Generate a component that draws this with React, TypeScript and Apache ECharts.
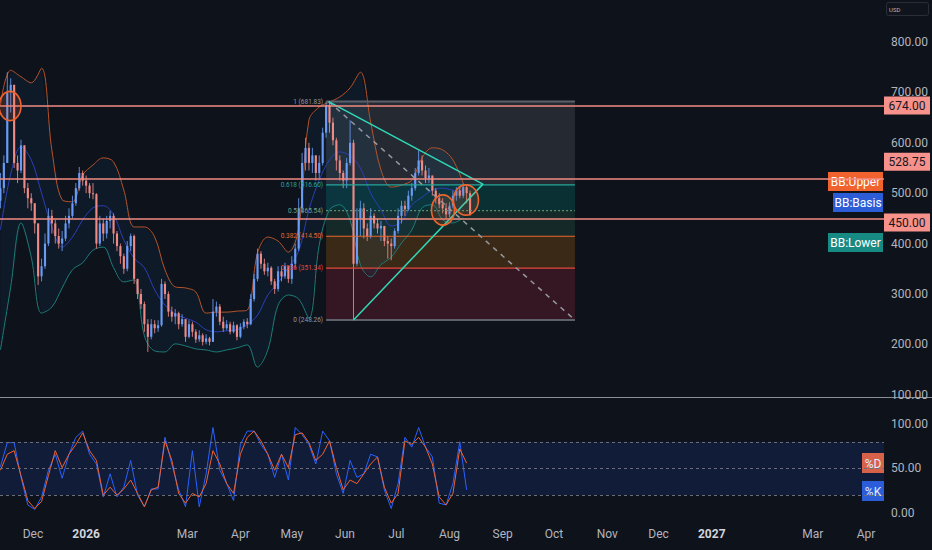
import React, { useEffect, useRef } from "react";
import * as echarts from "echarts";

// ---- time layout (days since 1 Dec 2025) ----
const X_MIN = -19.25;
const X_MAX = 496.5;
const CANDLE_START_DAY = -19;
const CANDLE_STEP = 2;
const BB_STEP = 6;
const STOCH_STEP = 4;
const FIRST_OPEN = 485;

const monthTicks = [0, 31, 90, 121, 151, 182, 212, 243, 274, 304, 335, 365, 396, 455, 486];
const monthLabels = ["Dec", "2026", "Mar", "Apr", "May", "Jun", "Jul", "Aug", "Sep", "Oct", "Nov", "Dec", "2027", "Mar", "Apr"];
const priceTicks = [100, 200, 300, 400, 500, 600, 700, 800];
const stochTicks = [0, 50, 100];

// ---- candles (2-day bars) ----
const closes = [
  510, 560, 700, 715, 560, 545, 595, 510, 490, 480, 440, 335, 355, 400, 455, 440, 415, 400, 410, 440,
  455, 480, 510, 540, 525, 515, 500, 498, 400, 440, 420, 445, 455, 420, 395, 375, 350, 395, 415, 330,
  300, 280, 240, 215, 240, 232, 238, 320, 300, 265, 255, 262, 240, 250, 215, 240, 225, 210, 218, 205,
  212, 205, 265, 275, 245, 232, 240, 225, 238, 215, 235, 245, 240, 290, 330, 380, 360, 345, 352, 325,
  310, 345, 335, 355, 330, 360, 390, 470, 560, 590, 560, 575, 540, 560, 620, 675, 640, 605, 565, 540,
  525, 560, 600, 360, 450, 470, 430, 415, 455, 440, 430, 435, 405, 400, 395, 425, 455, 475, 468, 495,
  510, 540, 565, 545, 530, 535, 505, 490, 478, 470, 458, 475, 495, 505, 495, 512, 500, 458,
];
const highs = [
  540, 575, 740, 728, 705, 575, 606, 595, 520, 500, 480, 440, 370, 420, 470, 467, 447, 430, 425, 455,
  470, 495, 520, 552, 545, 535, 520, 520, 500, 455, 450, 455, 465, 460, 425, 400, 380, 405, 420, 418,
  330, 310, 285, 250, 250, 248, 248, 330, 325, 305, 275, 270, 265, 260, 250, 248, 245, 230, 228, 222,
  220, 215, 290, 285, 280, 255, 248, 245, 245, 240, 242, 250, 252, 300, 340, 390, 385, 370, 362, 355,
  330, 355, 355, 362, 355, 375, 400, 490, 580, 610, 600, 590, 575, 575, 630, 681.83, 680, 650, 610, 575,
  545, 570, 645, 606, 470, 485, 480, 440, 470, 460, 450, 445, 435, 415, 410, 430, 470, 485, 485, 505,
  520, 550, 585, 575, 555, 550, 535, 510, 500, 490, 480, 482, 505, 512, 515, 520, 515, 505,
];
const lows = [
  470, 500, 560, 660, 550, 520, 540, 500, 470, 465, 420, 318, 325, 350, 395, 420, 400, 390, 385, 405,
  430, 450, 475, 505, 515, 500, 490, 488, 390, 395, 405, 410, 430, 400, 385, 360, 340, 345, 385, 320,
  290, 270, 225, 185, 210, 222, 225, 235, 290, 255, 245, 240, 230, 235, 205, 212, 215, 203, 205, 198,
  200, 198, 205, 255, 238, 225, 228, 220, 222, 208, 212, 230, 232, 238, 285, 325, 350, 338, 335, 318,
  300, 305, 325, 330, 322, 320, 350, 385, 460, 545, 545, 540, 525, 530, 555, 610, 620, 595, 545, 525,
  510, 510, 555, 248.26, 355, 415, 410, 405, 410, 430, 420, 405, 395, 370, 367, 390, 420, 440, 455, 465,
  485, 505, 535, 535, 520, 520, 495, 480, 470, 460, 450, 452, 470, 485, 490, 490, 480, 455,
];

// ---- Bollinger Bands (sampled every 6 days) ----
const bbUpper = [
  675, 744, 731, 719, 748, 586, 487, 483, 536, 556, 570, 562, 506, 433, 433, 413, 348, 314, 312, 304,
  262, 264, 264, 266, 268, 381, 413, 405, 383, 430, 645, 671, 681, 691, 709, 740, 641, 546, 512, 516,
  526, 570, 590, 586, 566, 520,
];
const bbBasis = [
  427, 538, 592, 566, 500, 433, 393, 413, 447, 471, 475, 457, 407, 371, 352, 308, 278, 260, 252, 244,
  229, 225, 227, 229, 239, 258, 298, 322, 352, 385, 467, 526, 566, 582, 574, 550, 500, 467, 435, 443,
  477, 492, 506, 510, 506, 504,
];
const bbLower = [
  189, 314, 441, 373, 262, 274, 312, 348, 362, 387, 393, 352, 324, 328, 217, 187, 185, 201, 197, 191,
  189, 185, 189, 193, 199, 155, 189, 278, 298, 290, 252, 397, 467, 477, 447, 358, 334, 358, 373, 401,
  427, 471, 477, 447, 441, 451,
];

// ---- Stochastic (sampled every 4 days) ----
const stochK = [
  52, 79, 79, 40, 9, 4, 18, 48, 66, 39, 66, 85, 92, 66, 55, 18, 44, 18, 29, 59, 20, 7, 27, 27, 85,
  55, 26, 7, 70, 7, 44, 96, 48, 33, 14, 77, 92, 92, 77, 66, 40, 66, 37, 96, 88, 77, 55, 92, 81, 44,
  22, 59, 40, 44, 66, 63, 26, 5, 33, 85, 74, 96, 74, 63, 11, 9, 33, 80, 26,
];
const stochD = [
  48, 66, 70, 42, 14, 5, 13, 42, 70, 51, 66, 77, 90, 70, 59, 20, 29, 20, 27, 37, 22, 7, 26, 29, 81,
  59, 22, 11, 22, 18, 33, 70, 55, 33, 22, 66, 85, 92, 81, 66, 48, 66, 51, 88, 90, 79, 59, 66, 81, 51,
  26, 37, 33, 44, 55, 63, 29, 11, 22, 81, 77, 85, 74, 55, 18, 9, 22, 72, 56,
];

// ---- horizontal levels & drawings ----
const hLevels = [674, 528.75, 450];
const hTagShift = [0, -17, 4];
const fibStartDay = 171;
const fibEndDay = 316.2;
const fibRatios = ["1", "0.618", "0.5", "0.382", "0.236", "0"];
const fibPrices = [681.83, 516.6, 465.54, 414.5, 351.34, 248.26];
const fibLineColors = ["#5d606b", "#26a69a", "#5b8f78", "#e8672e", "#e04a3c", "#5d606b"];
const fibTextColors = ["#9598a1", "#26a69a", "#6fa58a", "#e8672e", "#e04a3c", "#9598a1"];
const fibFills = [
  "rgba(120,123,134,0.22)",
  "rgba(0,150,140,0.23)",
  "rgba(60,170,110,0.16)",
  "rgba(255,152,0,0.18)",
  "rgba(242,54,69,0.17)",
];
const triTop: [number, number] = [172.5, 681.83];
const triApex: [number, number] = [262.5, 518];
const triBottom: [number, number] = [187, 248.26];
const diagEnd: [number, number] = [316.2, 248.26];
// ellipse annotations: [centerDay, centerPrice, radiusDays, radiusPrice]
const circles = [
  [-13.4, 673, 6.4, 29],
  [239.2, 466.7, 6.7, 30],
  [252.6, 486.5, 7.3, 30],
];

const BG = "#0e121b";
const UP = "#6a9cf5";
const DOWN = "#f08a84";
const AXIS_TXT = "#b2b5be";
const FONT = "Roboto";

export default function App() {
  const ref = useRef<HTMLDivElement>(null);

  useEffect(() => {
    document.body.style.margin = "0";
    document.body.style.background = BG;
    const chart = echarts.init(ref.current as HTMLDivElement, null, { renderer: "svg" });

    const candleData = closes.map((c, i) => {
      const o = i === 0 ? FIRST_OPEN : closes[i - 1];
      return [CANDLE_START_DAY + i * CANDLE_STEP, o, c, lows[i], highs[i]];
    });
    const bbDay = (k: number) => CANDLE_START_DAY + k * BB_STEP;
    const stDay = (k: number) => CANDLE_START_DAY + k * STOCH_STEP;

    const lineBase = {
      type: "line",
      xAxisIndex: 0,
      yAxisIndex: 0,
      symbol: "none",
      silent: true,
      smooth: 0.35,
    };

    const option: any = {
      animation: false,
      backgroundColor: BG,
      textStyle: { fontFamily: FONT },
      grid: [
        { left: 0, right: 48, top: 0, height: 397 },
        { left: 0, right: 48, top: 398, height: 122 },
      ],
      xAxis: [
        { type: "value", gridIndex: 0, min: X_MIN, max: X_MAX, show: false },
        {
          type: "value",
          gridIndex: 1,
          min: X_MIN,
          max: X_MAX,
          axisLine: { show: false },
          axisTick: { show: false },
          splitLine: { show: false },
          axisLabel: {
            customValues: monthTicks,
            color: AXIS_TXT,
            fontSize: 12,
            margin: 8,
            formatter: (v: number) => {
              const t = monthLabels[monthTicks.indexOf(v)] ?? "";
              return /^\d{4}$/.test(t) ? `{y|${t}}` : t;
            },
            rich: { y: { fontWeight: "bold", color: "#d1d4dc", fontSize: 12, fontFamily: FONT } },
          },
        },
      ],
      yAxis: [
        {
          type: "value",
          gridIndex: 0,
          position: "right",
          min: 95.6,
          max: 883.3,
          axisLine: { show: false },
          axisTick: { show: false },
          splitLine: { show: false },
          axisLabel: {
            customValues: priceTicks,
            formatter: (v: number) => v.toFixed(2),
            color: AXIS_TXT,
            fontSize: 12,
            margin: 7,
          },
        },
        {
          type: "value",
          gridIndex: 1,
          position: "right",
          min: -7.9,
          max: 129.2,
          axisLine: { show: false },
          axisTick: { show: false },
          splitLine: { show: false },
          axisLabel: {
            customValues: stochTicks,
            formatter: (v: number) => v.toFixed(2),
            color: AXIS_TXT,
            fontSize: 12,
            margin: 7,
          },
        },
      ],
      series: [
        // Fib zones
        {
          type: "custom",
          xAxisIndex: 0,
          yAxisIndex: 0,
          silent: true,
          z: 1,
          data: fibFills.map((_, i) => [i]),
          renderItem: (_p: any, api: any) => {
            const i = api.value(0);
            const a = api.coord([fibStartDay, fibPrices[i]]);
            const b = api.coord([fibEndDay, fibPrices[i + 1]]);
            return {
              type: "rect",
              shape: { x: a[0], y: a[1], width: b[0] - a[0], height: b[1] - a[1] },
              style: { fill: fibFills[i] },
            };
          },
        },
        // BB fill between upper and lower
        {
          type: "custom",
          xAxisIndex: 0,
          yAxisIndex: 0,
          silent: true,
          z: 1,
          data: [[0, 500]],
          renderItem: (_p: any, api: any) => {
            const up = bbUpper.map((v, k) => api.coord([bbDay(k), v]));
            const lo = bbLower.map((v, k) => api.coord([bbDay(k), v])).reverse();
            return {
              type: "polygon",
              shape: { points: up.concat(lo) },
              style: { fill: "rgba(33,150,243,0.065)" },
            };
          },
        },
        {
          ...lineBase,
          name: "BB:Upper",
          z: 2,
          lineStyle: { color: "#b4532a", width: 1 },
          data: bbUpper.map((v, k) => [bbDay(k), v]),
        },
        {
          ...lineBase,
          name: "BB:Lower",
          z: 2,
          lineStyle: { color: "#1d7c77", width: 1 },
          data: bbLower.map((v, k) => [bbDay(k), v]),
        },
        {
          ...lineBase,
          name: "BB:Basis",
          z: 2,
          lineStyle: { color: "#2b3fb5", width: 1 },
          data: bbBasis.map((v, k) => [bbDay(k), v]),
          markLine: {
            silent: true,
            symbol: "none",
            z: 6,
            label: { show: false },
            lineStyle: { color: "#f28b82", width: 1.5, type: "solid" },
            data: hLevels.map((v) => ({ yAxis: v })),
          },
        },
        // Candles
        {
          type: "custom",
          name: "price",
          xAxisIndex: 0,
          yAxisIndex: 0,
          silent: true,
          z: 3,
          encode: { x: 0, y: [1, 2, 3, 4] },
          data: candleData,
          renderItem: (_p: any, api: any) => {
            const d = api.value(0);
            const o = api.value(1);
            const c = api.value(2);
            const l = Math.min(api.value(3), o, c);
            const h = Math.max(api.value(4), o, c);
            const pO = api.coord([d, o]);
            const pC = api.coord([d, c]);
            const pL = api.coord([d, l]);
            const pH = api.coord([d, h]);
            const w = Math.max(1.2, api.size([CANDLE_STEP, 0])[0] * 0.62);
            const color = c >= o ? UP : DOWN;
            return {
              type: "group",
              children: [
                {
                  type: "line",
                  shape: { x1: pH[0], y1: pH[1], x2: pL[0], y2: pL[1] },
                  style: { stroke: color, lineWidth: 1, opacity: 0.85 },
                },
                {
                  type: "rect",
                  shape: {
                    x: pO[0] - w / 2,
                    y: Math.min(pO[1], pC[1]),
                    width: w,
                    height: Math.max(1, Math.abs(pO[1] - pC[1])),
                  },
                  style: { fill: color },
                },
              ],
            };
          },
        },
        // Fib lines + labels
        {
          type: "custom",
          xAxisIndex: 0,
          yAxisIndex: 0,
          silent: true,
          z: 4,
          data: fibPrices.map((_, i) => [i]),
          renderItem: (_p: any, api: any) => {
            const i = api.value(0);
            const a = api.coord([fibStartDay, fibPrices[i]]);
            const b = api.coord([fibEndDay, fibPrices[i]]);
            const edge = i === 0 || i === fibPrices.length - 1;
            return {
              type: "group",
              children: [
                {
                  type: "line",
                  shape: { x1: a[0], y1: a[1], x2: b[0], y2: b[1] },
                  style: {
                    stroke: fibLineColors[i],
                    lineWidth: edge ? 2 : 1.2,
                    lineDash: i === 2 ? [2, 2] : null,
                  },
                },
                {
                  type: "text",
                  x: a[0] - 3,
                  y: a[1],
                  style: {
                    text: `${fibRatios[i]} (${fibPrices[i].toFixed(2)})`,
                    fill: fibTextColors[i],
                    fontSize: 6.5,
                    fontFamily: FONT,
                    align: "right",
                    verticalAlign: "middle",
                  },
                },
              ],
            };
          },
        },
        // Trend lines
        {
          type: "line",
          xAxisIndex: 0,
          yAxisIndex: 0,
          symbol: "none",
          silent: true,
          z: 5,
          lineStyle: { color: "#9598a1", width: 1.5, type: [5, 5] },
          data: [triTop, diagEnd],
        },
        {
          type: "line",
          xAxisIndex: 0,
          yAxisIndex: 0,
          symbol: "none",
          silent: true,
          z: 5,
          lineStyle: { color: "#2fd9b8", width: 1.5 },
          data: [triTop, triApex, triBottom],
        },
        // Circles
        {
          type: "custom",
          xAxisIndex: 0,
          yAxisIndex: 0,
          silent: true,
          z: 6,
          data: circles,
          renderItem: (_p: any, api: any) => {
            const c = api.coord([api.value(0), api.value(1)]);
            const s = api.size([api.value(2), api.value(3)]);
            return {
              type: "ellipse",
              shape: { cx: c[0], cy: c[1], rx: s[0], ry: s[1] },
              style: { fill: "rgba(240,99,45,0.16)", stroke: "#f0632d", lineWidth: 1.6 },
            };
          },
        },
        // Stochastic
        {
          type: "line",
          name: "%K",
          xAxisIndex: 1,
          yAxisIndex: 1,
          symbol: "none",
          silent: true,
          lineStyle: { color: "#2962ff", width: 1 },
          data: stochK.map((v, k) => [stDay(k), v]),
          markArea: {
            silent: true,
            itemStyle: { color: "rgba(41,98,255,0.13)" },
            data: [[{ yAxis: 20 }, { yAxis: 80 }]],
          },
          markLine: {
            silent: true,
            symbol: "none",
            label: { show: false },
            lineStyle: { color: "#6a6d78", width: 1, type: [3, 3] },
            data: [{ yAxis: 80 }, { yAxis: 50 }, { yAxis: 20 }],
          },
        },
        {
          type: "line",
          name: "%D",
          xAxisIndex: 1,
          yAxisIndex: 1,
          symbol: "none",
          silent: true,
          lineStyle: { color: "#f0622e", width: 1 },
          data: stochD.map((v, k) => [stDay(k), v]),
        },
      ],
    };

    chart.setOption(option);

    // tags drawn after layout so they follow the axes
    const tag = (x: number, y: number, w: number, h: number, fill: string, text: string, color: string) => ({
      type: "group",
      children: [
        { type: "rect", shape: { x, y, width: w, height: h }, style: { fill } },
        {
          type: "text",
          x: x + w / 2,
          y: y + h / 2 + 0.5,
          style: { text, fill: color, fontSize: 12, fontFamily: FONT, align: "center", verticalAlign: "middle" },
        },
      ],
    });
    const gridRight = 884;
    const graphics: any[] = [
      { type: "line", shape: { x1: 0, y1: 397.5, x2: 932, y2: 397.5 }, style: { stroke: "#8a8d96", lineWidth: 1 } },
      { type: "rect", shape: { x: 886.5, y: 2.5, width: 42, height: 13, r: 2 }, style: { fill: "#10141d", stroke: "#2a2e39", lineWidth: 1 } },
      { type: "text", x: 889, y: 9.5, style: { text: "USD", fill: AXIS_TXT, fontSize: 6, fontFamily: FONT, verticalAlign: "middle" } },
    ];
    hLevels.forEach((v, i) => {
      const y = (chart.convertToPixel({ yAxisIndex: 0 }, v) as number) + hTagShift[i];
      graphics.push(tag(gridRight, y - 9, 46, 18, "#f7918b", v.toFixed(2), "#131722"));
    });
    graphics.push(tag(828, 172, 55, 19, "#f0622e", "BB:Upper", "#ffffff"));
    graphics.push(tag(833, 193, 50, 19, "#2c5cd6", "BB:Basis", "#ffffff"));
    graphics.push(tag(828, 233, 55, 19, "#178a84", "BB:Lower", "#ffffff"));
    graphics.push(tag(862, 453, 22, 20, "#f0622e", "%D", "#ffffff"));
    graphics.push(tag(862, 481, 22, 20, "#2c5cd6", "%K", "#ffffff"));
    chart.setOption({ graphic: graphics });

    return () => chart.dispose();
  }, []);

  return <div ref={ref} style={{ width: 932, height: 550 }} />;
}
